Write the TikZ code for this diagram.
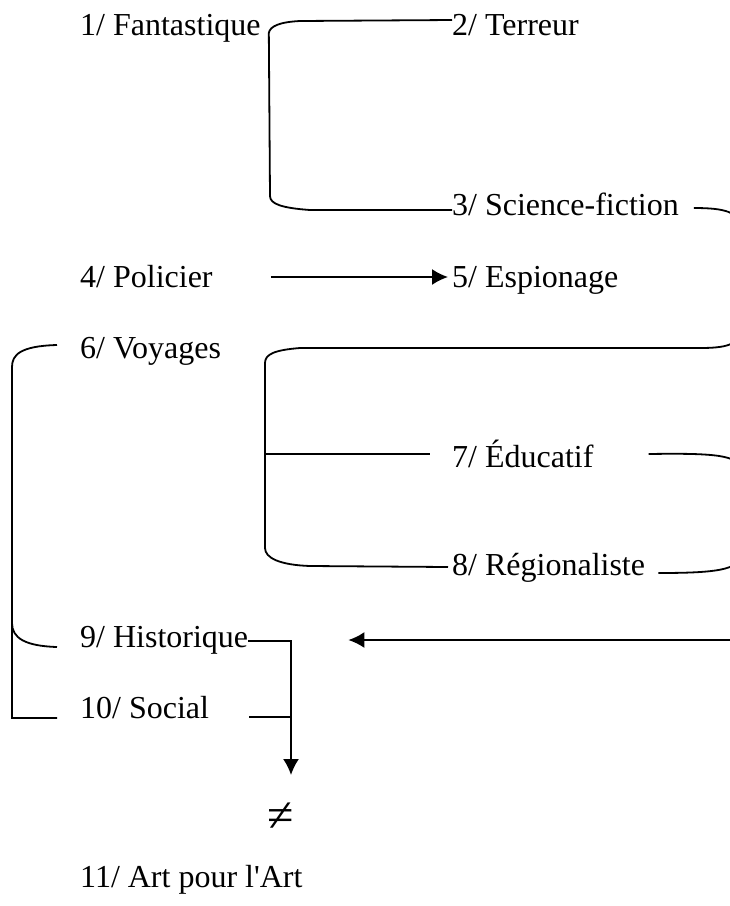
\documentclass[tikz,border=0pt]{standalone}
\usepackage{fontspec}
\setmainfont{Liberation Serif}
\usetikzlibrary{positioning,arrows.meta}

\begin{document}
\begin{tikzpicture}[x=1pt,y=-1pt,
genre/.style={anchor=base west, inner sep=0pt, font=\fontsize{32}{38}\selectfont},
link/.style={line width=1.8pt},
arr/.style={link,-{Latex[length=16pt,width=16pt]}},
]
\useasboundingbox (0,0) rectangle (730,906);

\node[genre] (fant) at (80,35) {1/ Fantastique};
\node[genre] (terr) at (452,35) {2/ Terreur};
\node[genre] (scifi) at (452,215) {3/ Science-fiction};
\node[genre] (pol) at (80,287) {4/ Policier};
\node[genre] (esp) at (452,287) {5/ Espionage};
\node[genre] (voy) at (80,358) {6/ Voyages};
\node[genre] (edu) at (452,467) {7/ Éducatif};
\node[genre] (reg) at (452,575) {8/ Régionaliste};
\node[genre] (hist) at (80,647) {9/ Historique};
\node[genre] (soc) at (80,718) {10/ Social};
\node[inner sep=0pt, font=\fontsize{48}{52}\selectfont] (neq) at (281,817) {≠};
\node[genre] (art) at (80,887) {11/ Art pour l\textquotesingle Art};

% fantastique splits into terreur and science-fiction
\draw[link] ([yshift=15pt]terr.base west) -- (300,21) .. controls (280,22) and (270,26) .. ([xshift=8pt,yshift=2pt]fant.base east)
  -- (270,196) .. controls (270,204) and (282,208) .. (310,210) -- ([yshift=5pt]scifi.base west);
\draw[arr] ([xshift=58pt,yshift=10pt]pol.base east) -- ([xshift=-4pt,yshift=10pt]esp.base west);

% science-fiction leads to educatif and regionaliste
\draw[link] ([xshift=15pt,yshift=7pt]scifi.base east) .. controls (725,208) and (740,212) .. (740,228) -- (740,330)
  .. controls (740,345) and (725,348) .. (700,348) -- (300,348) .. controls (275,350) and (265,354) .. (265,363)
  -- (265,548) .. controls (265,558) and (280,565) .. (310,566) -- ([xshift=-4pt,yshift=8pt]reg.base west);
\draw[link] (265,454) -- ([xshift=-22pt,yshift=13pt]edu.base west);

% educatif and regionaliste back to historique
\draw[link] ([xshift=55pt,yshift=13pt]edu.base east) .. controls (715,453) and (740,455) .. (740,470) -- (740,555)
  .. controls (740,570) and (715,573) .. ([xshift=13pt,yshift=2pt]reg.base east);
\draw[arr] (740,640) -- ([xshift=100pt,yshift=7pt]hist.base east);

% voyages, historique, social
\draw[link] ([xshift=-23pt,yshift=13pt]voy.base west) .. controls (20,346) and (12,355) .. (12,367)
  -- (12,718) -- ([xshift=-23pt]soc.base west);
\draw[link] (12,623) .. controls (12,638) and (25,646) .. ([xshift=-23pt]hist.base west);

\coordinate (drop) at (291,775);
\draw[arr] ([yshift=6pt]hist.base east) -| (drop);
\draw[link] ([xshift=40pt,yshift=1pt]soc.base east) -- ([yshift=1pt]soc.base east -| drop);
\end{tikzpicture}
\end{document}
